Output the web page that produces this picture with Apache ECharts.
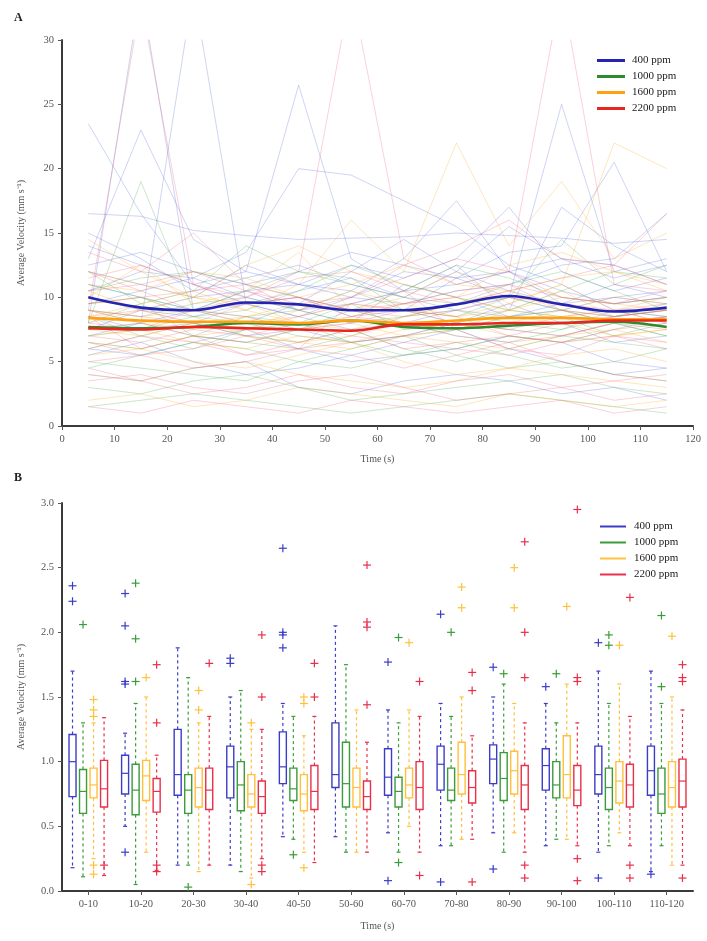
<!DOCTYPE html>
<html><head><meta charset="utf-8">
<script src="https://cdn.jsdelivr.net/npm/echarts/dist/echarts.min.js"></script>
<style>html,body{margin:0;padding:0;background:#fff}#c{width:707px;height:941px}</style>
</head><body><div id="c"></div>
<script>
// ---------- Panel A data ----------
const times = [5, 15, 25, 35, 45, 55, 65, 75, 85, 95, 105, 115];
const groupNames = ['400 ppm', '1000 ppm', '1600 ppm', '2200 ppm'];
const mean400 = [10.0, 9.2, 9.0, 9.6, 9.45, 9.0, 9.0, 9.45, 10.1, 9.45, 8.9, 9.2];
const mean1000 = [7.7, 7.6, 7.7, 8.0, 7.9, 8.2, 7.7, 7.6, 7.8, 8.0, 8.1, 7.7];
const mean1600 = [8.4, 8.2, 8.1, 8.1, 8.0, 8.2, 8.0, 8.2, 8.4, 8.4, 8.3, 8.3];
const mean2200 = [7.6, 7.5, 7.7, 7.6, 7.5, 7.4, 7.9, 7.9, 8.0, 8.0, 8.2, 8.2];

const thin400 = [
  [23.5, 16.5, 11.0, 12.0, 26.5, 13.0, 10.5, 12.5, 9.0, 17.0, 14.0, 12.0],
  [16.5, 16.3, 15.2, 14.8, 14.5, 14.6, 14.7, 15.0, 14.8, 14.6, 14.2, 14.5],
  [13.0, 23.0, 14.5, 12.0, 11.0, 10.5, 13.0, 17.5, 12.0, 9.5, 11.0, 10.0],
  [10.5, 12.0, 11.5, 13.5, 20.0, 19.5, 17.5, 15.5, 12.5, 11.0, 9.0, 8.5],
  [9.0, 8.0, 34.0, 9.5, 8.5, 10.0, 12.0, 11.5, 10.0, 25.0, 12.0, 13.0],
  [7.5, 9.0, 10.0, 12.5, 11.0, 12.5, 11.5, 13.0, 17.0, 12.0, 10.5, 11.5],
  [12.0, 11.0, 10.0, 10.5, 11.0, 10.0, 9.5, 10.5, 11.0, 12.5, 13.0, 16.5],
  [8.5, 7.5, 8.0, 7.0, 7.5, 6.5, 7.0, 8.0, 9.5, 8.0, 6.5, 7.0],
  [6.0, 5.5, 6.5, 7.5, 6.0, 5.0, 5.5, 6.0, 7.0, 6.5, 5.0, 4.5],
  [4.0, 3.5, 4.5, 5.0, 3.0, 2.5, 3.5, 4.0, 3.5, 2.5, 3.0, 2.0],
  [11.0, 10.0, 9.0, 8.0, 9.5, 12.0, 14.5, 12.0, 10.5, 9.5, 8.5, 9.0],
  [14.0, 12.5, 11.0, 9.5, 10.0, 8.5, 9.0, 11.5, 13.5, 14.0, 20.5, 12.0],
  [8.0, 34.0, 9.0, 10.5, 9.0, 8.0, 11.0, 10.0, 8.5, 9.0, 10.0, 9.5],
  [12.5, 13.5, 12.0, 11.0, 12.0, 13.5, 12.5, 11.5, 12.0, 13.0, 12.5, 11.0],
  [9.5, 10.5, 11.5, 10.0, 9.0, 9.5, 10.5, 11.0, 12.0, 10.5, 9.5, 10.0],
  [7.0, 8.0, 9.0, 9.5, 8.5, 7.5, 8.0, 9.0, 10.0, 9.0, 8.0, 8.5],
  [15.0, 13.0, 10.5, 11.5, 12.5, 11.0, 10.0, 12.0, 15.5, 13.0, 11.5, 12.5],
  [10.0, 9.0, 8.5, 9.5, 10.5, 11.5, 10.0, 9.0, 8.5, 9.5, 10.0, 10.5],
  [5.5, 6.5, 5.0, 4.0, 4.5, 5.5, 6.5, 7.5, 6.0, 5.0, 4.0, 4.5]
];
const thin1000 = [
  [8.0, 19.0, 9.0, 8.5, 8.0, 9.5, 7.5, 8.0, 9.0, 8.5, 7.0, 8.0],
  [6.5, 6.0, 7.0, 8.5, 9.0, 10.5, 9.0, 8.0, 7.5, 7.0, 6.5, 6.0],
  [5.0, 4.5, 4.0, 3.5, 5.0, 6.0, 7.0, 5.5, 4.5, 5.0, 4.0, 3.5],
  [9.5, 10.0, 9.0, 10.5, 12.0, 11.0, 10.0, 9.5, 11.0, 12.0, 10.5, 9.0],
  [7.5, 8.0, 7.0, 6.5, 6.0, 7.0, 8.5, 9.0, 8.0, 7.5, 8.5, 9.5],
  [3.0, 2.5, 3.5, 4.0, 3.0, 2.0, 2.5, 3.0, 3.5, 4.0, 3.0, 2.5],
  [10.5, 11.5, 12.0, 11.0, 10.0, 9.0, 10.5, 12.5, 11.5, 10.0, 9.5, 10.0],
  [8.5, 7.0, 6.0, 7.5, 8.0, 6.5, 5.5, 6.0, 7.0, 6.5, 7.5, 8.5],
  [6.0, 7.0, 8.0, 7.0, 6.5, 7.5, 6.0, 5.0, 6.0, 7.0, 8.0, 7.0],
  [12.0, 9.5, 10.5, 14.0, 12.0, 11.5, 9.0, 8.5, 10.0, 14.5, 11.0, 12.5],
  [9.0, 8.5, 9.5, 10.0, 9.0, 8.0, 8.5, 9.5, 10.0, 9.0, 8.5, 9.0],
  [4.5, 5.5, 6.5, 6.0, 5.0, 4.5, 5.5, 6.5, 5.5, 4.5, 5.0, 6.0],
  [11.0, 10.0, 8.5, 9.0, 10.5, 12.5, 11.0, 10.0, 9.0, 10.5, 12.0, 11.5],
  [7.0, 7.5, 8.5, 8.0, 7.0, 6.5, 7.0, 7.5, 8.5, 9.0, 8.0, 7.0],
  [1.5, 2.0, 2.5, 2.0, 1.5, 1.0, 1.5, 2.0, 2.5, 2.0, 1.5, 1.0],
  [8.0, 9.5, 7.0, 6.5, 7.5, 9.0, 8.0, 7.0, 6.5, 7.5, 9.0, 8.5]
];
const thin1600 = [
  [14.5, 12.0, 10.0, 9.0, 11.0, 16.0, 12.0, 22.0, 14.0, 19.0, 13.0, 15.0],
  [9.0, 8.5, 9.0, 8.0, 8.5, 9.5, 9.0, 8.5, 9.0, 10.0, 9.5, 9.0],
  [7.0, 7.5, 6.5, 6.0, 7.0, 6.5, 7.5, 8.0, 7.0, 6.5, 7.0, 7.5],
  [11.0, 10.5, 12.0, 11.5, 10.0, 11.0, 12.5, 11.0, 10.5, 11.5, 12.0, 10.5],
  [5.5, 6.0, 5.0, 4.5, 5.5, 6.5, 5.0, 4.0, 4.5, 5.5, 6.0, 5.0],
  [8.0, 9.0, 10.0, 9.5, 8.0, 7.5, 8.5, 9.5, 10.5, 9.0, 8.0, 8.5],
  [2.0, 2.5, 1.5, 2.0, 3.0, 2.5, 2.0, 1.5, 2.5, 2.0, 1.5, 2.0],
  [10.0, 12.5, 9.5, 10.5, 13.5, 9.0, 10.0, 12.0, 9.5, 11.0, 22.0, 20.0],
  [7.5, 7.0, 8.0, 8.5, 7.5, 8.0, 7.0, 7.5, 8.5, 8.0, 7.0, 7.5],
  [9.5, 10.0, 8.5, 7.0, 6.5, 7.0, 8.0, 7.5, 9.0, 10.5, 8.5, 9.0],
  [8.5, 9.5, 10.5, 9.0, 8.0, 8.5, 9.5, 10.0, 9.0, 8.5, 9.0, 10.0],
  [6.5, 6.0, 7.0, 7.5, 6.5, 6.0, 7.0, 6.5, 6.0, 7.0, 7.5, 6.5],
  [12.0, 11.0, 10.0, 12.5, 14.0, 12.0, 11.0, 10.0, 12.5, 13.5, 12.0, 11.0],
  [4.0, 3.5, 4.5, 5.0, 4.0, 3.5, 3.0, 3.5, 4.5, 4.0, 3.5, 3.0],
  [9.0, 8.0, 7.5, 8.5, 9.5, 9.0, 8.0, 7.5, 8.0, 9.0, 10.0, 9.5],
  [10.5, 9.0, 8.0, 7.5, 9.0, 10.5, 9.5, 8.5, 9.5, 11.0, 9.0, 8.0]
];
const thin2200 = [
  [12.0, 10.5, 9.0, 10.0, 12.0, 34.0, 13.0, 11.0, 12.0, 34.0, 11.0, 10.5],
  [1.5, 1.0, 2.0, 1.5, 1.0, 2.0, 1.5, 1.0, 1.5, 2.0, 1.0, 1.5],
  [7.0, 6.5, 7.5, 7.0, 6.0, 6.5, 7.0, 8.0, 7.5, 7.0, 8.0, 7.5],
  [9.0, 8.5, 8.0, 9.5, 10.0, 9.0, 8.5, 9.0, 10.0, 9.5, 9.0, 9.5],
  [5.0, 5.5, 4.5, 5.0, 6.0, 5.5, 4.5, 5.5, 6.5, 5.0, 4.0, 3.5],
  [10.5, 11.0, 12.0, 10.5, 9.5, 10.0, 11.5, 13.0, 12.0, 10.0, 9.5, 10.5],
  [6.0, 7.0, 6.5, 5.5, 6.5, 7.5, 6.0, 6.5, 7.0, 6.5, 7.5, 8.0],
  [8.0, 7.5, 9.0, 8.5, 7.5, 8.0, 9.0, 8.5, 7.0, 8.0, 8.5, 9.0],
  [13.5, 12.0, 15.0, 11.0, 9.0, 10.0, 12.5, 14.0, 16.0, 13.0, 12.5, 16.5],
  [3.5, 4.0, 3.0, 2.5, 3.5, 4.0, 3.0, 2.0, 2.5, 3.0, 3.5, 4.0],
  [8.5, 6.0, 7.0, 5.5, 6.0, 9.5, 10.5, 7.5, 6.0, 5.5, 7.0, 6.5],
  [9.5, 10.0, 10.5, 11.0, 10.0, 9.0, 9.5, 10.5, 11.0, 10.0, 9.5, 10.0],
  [7.5, 8.0, 7.0, 6.5, 7.5, 8.5, 8.0, 7.0, 6.5, 7.0, 8.0, 8.5],
  [6.5, 5.5, 6.0, 7.0, 8.0, 7.0, 6.5, 6.0, 5.5, 6.5, 7.0, 6.0],
  [11.5, 12.5, 11.0, 10.0, 11.5, 12.0, 10.5, 9.5, 10.5, 11.5, 12.5, 11.0],
  [4.5, 3.5, 2.5, 3.0, 4.0, 3.0, 2.5, 3.5, 4.0, 3.0, 2.0, 2.5],
  [8.5, 9.0, 8.0, 7.5, 8.5, 9.5, 9.0, 8.0, 7.5, 8.5, 9.0, 8.0],
  [9.0, 33.0, 11.0, 9.5, 10.0, 8.5, 9.5, 10.0, 11.0, 9.0, 8.5, 9.0]
];

// ---------- Panel B data ----------
const bins = ['0-10', '10-20', '20-30', '30-40', '40-50', '50-60', '60-70', '70-80', '80-90', '90-100', '100-110', '110-120'];
// [lower whisker, Q1, median, Q3, upper whisker]
const box400 = [
  [0.18, 0.73, 1.00, 1.21, 1.70], [0.50, 0.75, 0.91, 1.05, 1.22], [0.20, 0.74, 0.90, 1.25, 1.88],
  [0.20, 0.72, 0.96, 1.12, 1.50], [0.42, 0.83, 0.96, 1.23, 1.45], [0.42, 0.80, 0.90, 1.30, 2.05],
  [0.45, 0.74, 0.88, 1.10, 1.40], [0.35, 0.78, 0.98, 1.12, 1.45], [0.45, 0.83, 1.02, 1.13, 1.50],
  [0.35, 0.78, 0.97, 1.10, 1.45], [0.30, 0.75, 0.90, 1.12, 1.70], [0.15, 0.74, 0.93, 1.12, 1.70]
];
const box1000 = [
  [0.11, 0.60, 0.77, 0.94, 1.30], [0.05, 0.59, 0.78, 0.98, 1.45], [0.20, 0.60, 0.78, 0.90, 1.65],
  [0.15, 0.62, 0.82, 1.00, 1.55], [0.40, 0.70, 0.79, 0.95, 1.35], [0.30, 0.65, 0.83, 1.15, 1.75],
  [0.30, 0.65, 0.77, 0.88, 1.30], [0.35, 0.70, 0.78, 0.95, 1.35], [0.30, 0.70, 0.87, 1.07, 1.60],
  [0.40, 0.72, 0.82, 1.00, 1.30], [0.35, 0.63, 0.80, 0.95, 1.45], [0.35, 0.60, 0.75, 0.95, 1.45]
];
const box1600 = [
  [0.25, 0.72, 0.82, 0.95, 1.30], [0.30, 0.70, 0.89, 1.01, 1.50], [0.15, 0.65, 0.80, 0.95, 1.30],
  [0.10, 0.65, 0.75, 0.90, 1.25], [0.30, 0.62, 0.75, 0.90, 1.20], [0.30, 0.65, 0.80, 0.95, 1.40],
  [0.50, 0.72, 0.82, 0.95, 1.40], [0.40, 0.75, 0.90, 1.15, 1.50], [0.45, 0.75, 0.93, 1.08, 1.45],
  [0.40, 0.72, 0.90, 1.20, 1.60], [0.45, 0.68, 0.85, 1.00, 1.60], [0.20, 0.65, 0.80, 1.00, 1.50]
];
const box2200 = [
  [0.12, 0.65, 0.79, 1.01, 1.34], [0.16, 0.61, 0.77, 0.87, 1.05], [0.20, 0.63, 0.78, 0.95, 1.35],
  [0.25, 0.60, 0.73, 0.85, 1.25], [0.22, 0.63, 0.77, 0.97, 1.35], [0.30, 0.63, 0.73, 0.85, 1.15],
  [0.30, 0.63, 0.80, 1.00, 1.35], [0.40, 0.68, 0.80, 0.93, 1.20], [0.30, 0.63, 0.82, 0.97, 1.30],
  [0.35, 0.66, 0.78, 0.97, 1.30], [0.35, 0.65, 0.82, 0.98, 1.35], [0.20, 0.65, 0.85, 1.02, 1.40]
];
// outliers: [bin index, value]
const out400 = [[0,2.36],[0,2.24],[1,2.30],[1,2.05],[1,1.62],[1,1.60],[1,0.30],[3,1.80],[3,1.76],[4,2.65],[4,2.00],[4,1.98],[4,1.88],[6,1.77],[6,0.08],[7,2.14],[7,0.07],[8,1.73],[8,0.17],[9,1.58],[10,1.92],[10,0.10],[11,0.13]];
const out1000 = [[0,2.06],[1,2.38],[1,1.95],[1,1.62],[2,0.03],[4,0.28],[6,1.96],[6,0.22],[7,2.00],[8,1.68],[9,1.68],[10,1.98],[10,1.90],[11,2.13],[11,1.58]];
const out1600 = [[0,1.48],[0,1.40],[0,1.35],[0,0.20],[0,0.13],[1,1.65],[2,1.55],[2,1.40],[3,1.30],[3,0.05],[4,1.50],[4,1.45],[4,0.18],[6,1.92],[7,2.35],[7,2.19],[8,2.50],[8,2.19],[9,2.20],[10,1.90],[11,1.97]];
const out2200 = [[0,0.20],[1,1.75],[1,1.30],[1,0.20],[1,0.15],[2,1.76],[3,1.98],[3,1.50],[3,0.20],[3,0.15],[4,1.76],[4,1.50],[5,2.52],[5,2.08],[5,2.04],[5,1.44],[6,1.62],[6,0.12],[7,1.69],[7,1.55],[7,0.07],[8,2.70],[8,2.00],[8,1.65],[8,0.10],[8,0.20],[9,2.95],[9,1.65],[9,1.62],[9,0.25],[9,0.08],[10,2.27],[10,0.20],[10,0.10],[11,1.75],[11,1.65],[11,1.62],[11,0.10]];

// ---------- Styles ----------
const FONT = 'Liberation Serif';
const meanColors = ['#2424b0', '#2e8a2e', '#ffa010', '#e8261e'];
const thinColors = ['rgba(80,100,215,0.28)', 'rgba(70,170,70,0.28)', 'rgba(255,170,40,0.30)', 'rgba(240,90,120,0.28)'];
const boxColors = ['#3c3cc8', '#3a9c3a', '#ffc03c', '#e8304a'];

const chart = echarts.init(document.getElementById('c'));
const means = [mean400, mean1000, mean1600, mean2200];
const thins = [thin400, thin1000, thin1600, thin2200];
const boxes = [box400, box1000, box1600, box2200];
const outs = [out400, out1000, out1600, out2200];
const bNames = ['B400', 'B1000', 'B1600', 'B2200'];

const series = [];
thins.forEach((grp, gi) => {
  grp.forEach((vals, k) => {
    series.push({
      type: 'line', name: 'thin' + gi + '_' + k, xAxisIndex: 0, yAxisIndex: 0,
      data: times.map((t, i) => [t, vals[i]]), showSymbol: false, silent: true,
      lineStyle: { width: 1, color: thinColors[gi] }, itemStyle: { color: thinColors[gi] }, z: 1
    });
  });
});
means.forEach((vals, gi) => {
  series.push({
    type: 'line', name: groupNames[gi], xAxisIndex: 0, yAxisIndex: 0,
    data: times.map((t, i) => [t, vals[i]]), showSymbol: false, smooth: 0.35,
    lineStyle: { width: 2.6, color: meanColors[gi] }, itemStyle: { color: meanColors[gi] }, z: 5
  });
});

function boxRender(gi) {
  const color = boxColors[gi];
  return function (params, api) {
    const idx = api.value(0);
    const band = api.size([1, 0])[0];
    const off = (gi - 1.5) * band * 0.2;
    const w = 7;
    const pl = api.coord([idx, api.value(1)]);
    const cx = pl[0] + off;
    const yl = pl[1];
    const y1 = api.coord([idx, api.value(2)])[1];
    const ym = api.coord([idx, api.value(3)])[1];
    const y3 = api.coord([idx, api.value(4)])[1];
    const yh = api.coord([idx, api.value(5)])[1];
    const dash = { stroke: color, lineWidth: 1.2, lineDash: [3, 3], fill: null };
    const solid = { stroke: color, lineWidth: 1.2, fill: null };
    return {
      type: 'group', children: [
        { type: 'line', shape: { x1: cx, y1: y3, x2: cx, y2: yh }, style: dash },
        { type: 'line', shape: { x1: cx, y1: y1, x2: cx, y2: yl }, style: dash },
        { type: 'line', shape: { x1: cx - 2, y1: yh, x2: cx + 2, y2: yh }, style: solid },
        { type: 'line', shape: { x1: cx - 2, y1: yl, x2: cx + 2, y2: yl }, style: solid },
        { type: 'rect', shape: { x: cx - w / 2, y: y3, width: w, height: y1 - y3 }, style: { stroke: color, lineWidth: 1.4, fill: 'rgba(255,255,255,0.6)' } },
        { type: 'line', shape: { x1: cx - w / 2, y1: ym, x2: cx + w / 2, y2: ym }, style: solid }
      ]
    };
  };
}
function outRender(gi) {
  const color = boxColors[gi];
  return function (params, api) {
    const idx = api.value(0);
    const band = api.size([1, 0])[0];
    const off = (gi - 1.5) * band * 0.2;
    const p = api.coord([idx, api.value(1)]);
    const cx = p[0] + off, cy = p[1], r = 4;
    const st = { stroke: color, lineWidth: 1.2 };
    return {
      type: 'group', children: [
        { type: 'line', shape: { x1: cx - r, y1: cy, x2: cx + r, y2: cy }, style: st },
        { type: 'line', shape: { x1: cx, y1: cy - r, x2: cx, y2: cy + r }, style: st }
      ]
    };
  };
}
boxes.forEach((b, gi) => {
  series.push({
    type: 'custom', name: bNames[gi], xAxisIndex: 1, yAxisIndex: 1,
    itemStyle: { color: boxColors[gi] },
    data: b.map((v, i) => [i, v[0], v[1], v[2], v[3], v[4]]),
    encode: { x: 0, y: [1, 2, 3, 4, 5] },
    renderItem: boxRender(gi), z: 3
  });
});
outs.forEach((o, gi) => {
  series.push({
    type: 'custom', name: 'out' + gi, xAxisIndex: 1, yAxisIndex: 1,
    itemStyle: { color: boxColors[gi] },
    data: o.map(v => [v[0], v[1]]),
    encode: { x: 0, y: 1 },
    renderItem: outRender(gi), z: 4
  });
});

const axisLine = { show: true, lineStyle: { color: '#3a3a3a', width: 2 } };
const axisLabel = { fontFamily: FONT, fontSize: 10.5, color: '#555' };
const axisTick = { show: true, length: 4, lineStyle: { color: '#555' } };
const nameStyle = { fontFamily: FONT, fontSize: 10, color: '#555' };
const bMap = { B400: '400 ppm', B1000: '1000 ppm', B1600: '1600 ppm', B2200: '2200 ppm' };

chart.setOption({
  animation: false,
  backgroundColor: '#fff',
  grid: [
    { left: 62, right: 14, top: 40, bottom: 515 },
    { left: 62, right: 14, top: 503, bottom: 50 }
  ],
  xAxis: [
    { type: 'value', gridIndex: 0, min: 0, max: 120, interval: 10, axisLine, axisTick, axisLabel, splitLine: { show: false },
      name: 'Time (s)', nameLocation: 'middle', nameGap: 28, nameTextStyle: nameStyle },
    { type: 'category', gridIndex: 1, data: bins, boundaryGap: true, axisLine, axisTick: Object.assign({ alignWithLabel: true }, axisTick), axisLabel: Object.assign({ interval: 0 }, axisLabel), splitLine: { show: false },
      name: 'Time (s)', nameLocation: 'middle', nameGap: 30, nameTextStyle: nameStyle }
  ],
  yAxis: [
    { type: 'value', gridIndex: 0, min: 0, max: 30, interval: 5, axisLine, axisTick, axisLabel, splitLine: { show: false },
      name: 'Average Velocity (mm s⁻¹)', nameLocation: 'middle', nameGap: 36, nameTextStyle: nameStyle },
    { type: 'value', gridIndex: 1, min: 0, max: 3, interval: 0.5, axisLine, axisTick,
      axisLabel: Object.assign({ formatter: v => v.toFixed(1) }, axisLabel), splitLine: { show: false },
      name: 'Average Velocity (mm s⁻¹)', nameLocation: 'middle', nameGap: 36, nameTextStyle: nameStyle }
  ],
  legend: [
    { orient: 'vertical', left: 592, top: 50, icon: 'rect', itemWidth: 28, itemHeight: 3, itemGap: 5,
      textStyle: { fontFamily: FONT, fontSize: 11, color: '#222', padding: [0, 0, 0, 2] },
      data: groupNames, selectedMode: false },
    { orient: 'vertical', left: 595, top: 516, icon: 'rect', itemWidth: 26, itemHeight: 2, itemGap: 5,
      textStyle: { fontFamily: FONT, fontSize: 11, color: '#222', padding: [0, 0, 0, 3] },
      formatter: n => bMap[n], data: bNames, selectedMode: false }
  ],
  graphic: [
    { type: 'text', left: 14, top: 12, style: { text: 'A', font: 'bold 12px "Liberation Serif"', fill: '#222' } },
    { type: 'text', left: 14, top: 472, style: { text: 'B', font: 'bold 12px "Liberation Serif"', fill: '#222' } }
  ],
  series
});
</script>
</body></html>
